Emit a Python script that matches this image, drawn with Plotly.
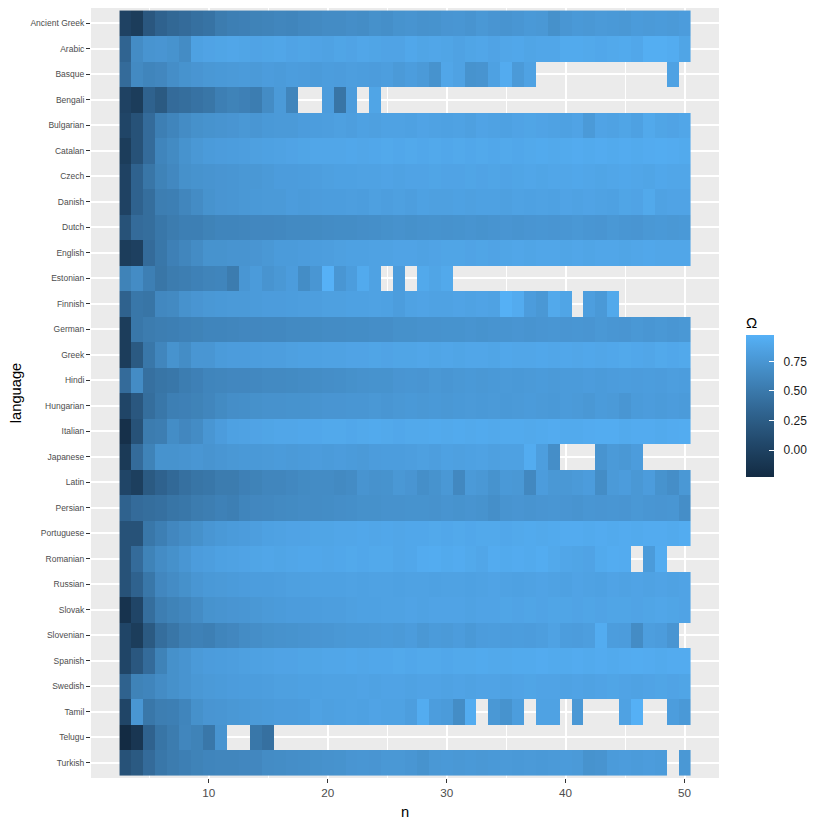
import plotly.graph_objects as go

n_values = list(range(3, 51))

languages = ['Ancient Greek', 'Arabic', 'Basque', 'Bengali', 'Bulgarian', 'Catalan',
             'Czech', 'Danish', 'Dutch', 'English', 'Estonian', 'Finnish', 'German',
             'Greek', 'Hindi', 'Hungarian', 'Italian', 'Japanese', 'Latin', 'Persian',
             'Portuguese', 'Romanian', 'Russian', 'Slovak', 'Slovenian', 'Spanish',
             'Swedish', 'Tamil', 'Telugu', 'Turkish']

N = None
# one row per language, columns n = 3..50 (None = no data)
omega = [
    # Ancient Greek
    [0.00, -0.05, 0.20, 0.30, 0.35, 0.38, 0.42, 0.45,
     0.52, 0.55, 0.56, 0.58, 0.59, 0.61, 0.60, 0.63, 0.64, 0.66,
     0.66, 0.68, 0.67, 0.70, 0.69, 0.72, 0.73, 0.71, 0.72, 0.74,
     0.75, 0.73, 0.76, 0.74, 0.73, 0.75, 0.77, 0.76, 0.70, 0.75,
     0.77, 0.76, 0.78, 0.77, 0.76, 0.79, 0.78, 0.79, 0.78, 0.80],
    # Arabic
    [0.32, 0.66, 0.73, 0.74, 0.72, 0.66, 0.84, 0.86,
     0.87, 0.88, 0.87, 0.86, 0.87, 0.88, 0.86, 0.87, 0.86, 0.85,
     0.87, 0.86, 0.88, 0.87, 0.86, 0.86, 0.89, 0.87, 0.88, 0.87,
     0.85, 0.87, 0.88, 0.86, 0.88, 0.89, 0.87, 0.88, 0.88, 0.91,
     0.91, 0.90, 0.89, 0.90, 0.91, 0.89, 0.94, 0.94, 0.93, 0.87],
    # Basque
    [0.38, 0.64, 0.60, 0.62, 0.68, 0.72, 0.74, 0.76,
     0.77, 0.78, 0.79, 0.78, 0.80, 0.79, 0.81, 0.80, 0.79, 0.81,
     0.80, 0.82, 0.81, 0.80, 0.82, 0.78, 0.81, 0.78, 0.72, 0.88,
     0.85, 0.72, 0.73, 0.84, 0.92, 0.78, 0.85, N, N, N,
     N, N, N, N, N, N, N, N, 0.85, N],
    # Bengali
    [0.00, -0.05, 0.30, 0.22, 0.38, 0.40, 0.44, 0.47,
     0.55, 0.58, 0.56, 0.53, 0.66, 0.78, 0.60, N, N, 0.80,
     0.46, 0.80, N, 0.87, N, N, N, N, N, N,
     N, N, N, N, N, N, N, N, N, N,
     N, N, N, N, N, N, N, N, N, N],
    # Bulgarian
    [0.03, 0.15, 0.38, 0.55, 0.60, 0.66, 0.70, 0.72,
     0.73, 0.74, 0.76, 0.75, 0.77, 0.78, 0.78, 0.80, 0.81, 0.82,
     0.83, 0.82, 0.84, 0.83, 0.85, 0.85, 0.84, 0.86, 0.85, 0.84,
     0.85, 0.83, 0.86, 0.85, 0.84, 0.86, 0.87, 0.86, 0.85, 0.84,
     0.86, 0.78, 0.86, 0.85, 0.87, 0.84, 0.90, 0.87, 0.86, 0.88],
    # Catalan
    [-0.05, 0.15, 0.38, 0.60, 0.65, 0.72, 0.76, 0.79,
     0.80, 0.81, 0.82, 0.83, 0.84, 0.85, 0.86, 0.87, 0.88, 0.88,
     0.88, 0.89, 0.88, 0.89, 0.90, 0.89, 0.90, 0.89, 0.90, 0.89,
     0.90, 0.89, 0.90, 0.89, 0.90, 0.89, 0.90, 0.91, 0.90, 0.91,
     0.92, 0.91, 0.92, 0.91, 0.92, 0.91, 0.92, 0.93, 0.92, 0.91],
    # Czech
    [0.00, 0.30, 0.47, 0.58, 0.63, 0.70, 0.72, 0.73,
     0.74, 0.75, 0.76, 0.76, 0.78, 0.80, 0.80, 0.81, 0.82, 0.83,
     0.84, 0.84, 0.85, 0.85, 0.86, 0.85, 0.86, 0.86, 0.87, 0.86,
     0.86, 0.87, 0.86, 0.87, 0.86, 0.87, 0.88, 0.87, 0.88, 0.88,
     0.89, 0.88, 0.87, 0.88, 0.89, 0.88, 0.87, 0.89, 0.88, 0.88],
    # Danish
    [0.00, 0.30, 0.40, 0.54, 0.55, 0.61, 0.66, 0.72,
     0.74, 0.75, 0.76, 0.77, 0.78, 0.78, 0.80, 0.79, 0.80, 0.81,
     0.81, 0.82, 0.81, 0.83, 0.82, 0.83, 0.82, 0.84, 0.83, 0.83,
     0.84, 0.83, 0.84, 0.84, 0.83, 0.85, 0.84, 0.85, 0.84, 0.86,
     0.85, 0.86, 0.85, 0.84, 0.87, 0.86, 0.90, 0.85, 0.86, 0.86],
    # Dutch
    [0.15, 0.38, 0.40, 0.48, 0.52, 0.55, 0.55, 0.58,
     0.60, 0.60, 0.61, 0.62, 0.62, 0.63, 0.64, 0.64, 0.65, 0.66,
     0.67, 0.67, 0.68, 0.69, 0.70, 0.71, 0.70, 0.71, 0.72, 0.71,
     0.72, 0.73, 0.72, 0.73, 0.74, 0.73, 0.74, 0.75, 0.74, 0.75,
     0.76, 0.75, 0.74, 0.76, 0.75, 0.74, 0.76, 0.77, 0.76, 0.77],
    # English
    [-0.05, -0.02, 0.38, 0.48, 0.56, 0.61, 0.66, 0.72,
     0.72, 0.73, 0.73, 0.74, 0.76, 0.79, 0.79, 0.80, 0.81, 0.82,
     0.83, 0.84, 0.84, 0.85, 0.85, 0.86, 0.86, 0.85, 0.86, 0.87,
     0.87, 0.86, 0.87, 0.86, 0.87, 0.88, 0.87, 0.88, 0.88, 0.87,
     0.88, 0.87, 0.88, 0.88, 0.87, 0.88, 0.89, 0.88, 0.88, 0.88],
    # Estonian
    [0.58, 0.66, 0.55, 0.47, 0.52, 0.54, 0.57, 0.59,
     0.60, 0.52, 0.75, 0.79, 0.73, 0.76, 0.80, 0.67, 0.75, 0.97,
     0.75, 0.81, 0.91, 0.85, N, 0.80, N, 0.90, 0.87, 0.90,
     N, N, N, N, N, N, N, N, N, N,
     N, N, N, N, N, N, N, N, N, N],
    # Finnish
    [0.30, 0.48, 0.46, 0.63, 0.64, 0.71, 0.74, 0.76,
     0.77, 0.78, 0.78, 0.79, 0.80, 0.80, 0.81, 0.82, 0.82, 0.83,
     0.83, 0.84, 0.84, 0.85, 0.84, 0.81, 0.85, 0.86, 0.85, 0.85,
     0.86, 0.85, 0.86, 0.85, 0.96, 0.92, 0.80, 0.76, 0.90, 0.87,
     N, 0.82, 0.77, 0.90, N, N, N, N, N, N],
    # German
    [-0.05, 0.48, 0.52, 0.54, 0.55, 0.57, 0.58, 0.60,
     0.60, 0.61, 0.62, 0.62, 0.63, 0.63, 0.64, 0.64, 0.65, 0.66,
     0.66, 0.67, 0.67, 0.68, 0.68, 0.70, 0.70, 0.71, 0.71, 0.72,
     0.72, 0.73, 0.72, 0.73, 0.73, 0.74, 0.73, 0.74, 0.75, 0.74,
     0.75, 0.74, 0.76, 0.75, 0.74, 0.76, 0.75, 0.76, 0.75, 0.76],
    # Greek
    [-0.05, 0.22, 0.48, 0.61, 0.72, 0.67, 0.75, 0.75,
     0.79, 0.80, 0.80, 0.81, 0.82, 0.82, 0.83, 0.84, 0.84, 0.85,
     0.85, 0.86, 0.86, 0.87, 0.86, 0.87, 0.87, 0.88, 0.87, 0.88,
     0.87, 0.88, 0.88, 0.87, 0.89, 0.88, 0.88, 0.89, 0.88, 0.89,
     0.88, 0.89, 0.88, 0.89, 0.90, 0.89, 0.88, 0.90, 0.89, 0.90],
    # Hindi
    [0.38, 0.66, 0.42, 0.46, 0.48, 0.53, 0.56, 0.60,
     0.61, 0.62, 0.62, 0.63, 0.64, 0.64, 0.65, 0.66, 0.67, 0.68,
     0.69, 0.70, 0.71, 0.72, 0.72, 0.74, 0.75, 0.74, 0.76, 0.75,
     0.76, 0.77, 0.76, 0.77, 0.78, 0.77, 0.78, 0.79, 0.78, 0.79,
     0.79, 0.80, 0.79, 0.80, 0.81, 0.80, 0.81, 0.80, 0.82, 0.81],
    # Hungarian
    [0.03, 0.20, 0.40, 0.48, 0.55, 0.56, 0.58, 0.61,
     0.65, 0.68, 0.69, 0.70, 0.71, 0.71, 0.72, 0.72, 0.73, 0.74,
     0.74, 0.75, 0.75, 0.76, 0.75, 0.76, 0.77, 0.76, 0.77, 0.76,
     0.77, 0.78, 0.77, 0.78, 0.77, 0.78, 0.79, 0.78, 0.77, 0.79,
     0.78, 0.76, 0.79, 0.78, 0.75, 0.79, 0.80, 0.79, 0.80, 0.79],
    # Italian
    [-0.18, 0.15, 0.52, 0.54, 0.67, 0.62, 0.66, 0.75,
     0.80, 0.84, 0.85, 0.86, 0.87, 0.88, 0.88, 0.89, 0.89, 0.90,
     0.90, 0.89, 0.90, 0.91, 0.90, 0.89, 0.90, 0.90, 0.91, 0.90,
     0.91, 0.90, 0.91, 0.90, 0.91, 0.91, 0.90, 0.91, 0.92, 0.91,
     0.91, 0.92, 0.93, 0.93, 0.91, 0.92, 0.92, 0.91, 0.92, 0.93],
    # Japanese
    [-0.08, 0.38, 0.58, 0.72, 0.72, 0.73, 0.75, 0.73,
     0.75, 0.76, 0.77, 0.77, 0.78, 0.79, 0.78, 0.79, 0.80, 0.79,
     0.80, 0.79, 0.78, 0.80, 0.81, 0.81, 0.82, 0.83, 0.82, 0.84,
     0.83, 0.84, 0.85, 0.83, 0.84, 0.84, 0.93, 0.82, 0.68, N,
     N, N, 0.73, 0.78, 0.76, 0.80, N, N, N, N],
    # Latin
    [0.03, -0.03, 0.22, 0.30, 0.36, 0.42, 0.46, 0.48,
     0.52, 0.52, 0.56, 0.58, 0.61, 0.61, 0.63, 0.65, 0.66, 0.66,
     0.64, 0.66, 0.73, 0.71, 0.72, 0.76, 0.74, 0.69, 0.72, 0.76,
     0.63, 0.78, 0.76, 0.72, 0.77, 0.76, 0.63, 0.80, 0.76, 0.76,
     0.78, 0.80, 0.67, 0.78, 0.80, 0.76, 0.80, 0.72, 0.68, 0.76],
    # Persian
    [0.30, 0.38, 0.40, 0.42, 0.46, 0.48, 0.52, 0.54,
     0.57, 0.55, 0.60, 0.62, 0.63, 0.64, 0.65, 0.66, 0.66, 0.67,
     0.68, 0.69, 0.70, 0.70, 0.71, 0.71, 0.72, 0.72, 0.71, 0.73,
     0.72, 0.73, 0.72, 0.69, 0.73, 0.74, 0.73, 0.74, 0.75, 0.74,
     0.73, 0.75, 0.74, 0.75, 0.74, 0.76, 0.75, 0.74, 0.75, 0.68],
    # Portuguese
    [0.15, 0.15, 0.48, 0.55, 0.62, 0.66, 0.70, 0.75,
     0.77, 0.79, 0.80, 0.82, 0.84, 0.85, 0.86, 0.86, 0.87, 0.87,
     0.88, 0.88, 0.89, 0.88, 0.89, 0.88, 0.89, 0.89, 0.90, 0.89,
     0.90, 0.89, 0.90, 0.90, 0.89, 0.90, 0.91, 0.90, 0.91, 0.92,
     0.92, 0.91, 0.92, 0.91, 0.92, 0.91, 0.92, 0.92, 0.91, 0.93],
    # Romanian
    [0.15, 0.38, 0.58, 0.66, 0.70, 0.75, 0.80, 0.82,
     0.84, 0.85, 0.86, 0.87, 0.88, 0.87, 0.88, 0.89, 0.89, 0.88,
     0.89, 0.90, 0.89, 0.90, 0.90, 0.88, 0.89, 0.92, 0.93, 0.91,
     0.92, 0.90, 0.88, 0.92, 0.91, 0.92, 0.91, 0.93, 0.90, 0.88,
     0.87, 0.86, 0.91, 0.93, 0.92, N, 0.79, 0.93, N, N],
    # Russian
    [0.15, 0.30, 0.48, 0.62, 0.66, 0.70, 0.75, 0.77,
     0.78, 0.79, 0.80, 0.81, 0.81, 0.82, 0.83, 0.83, 0.84, 0.84,
     0.84, 0.85, 0.84, 0.85, 0.85, 0.84, 0.85, 0.85, 0.84, 0.85,
     0.85, 0.84, 0.85, 0.86, 0.85, 0.84, 0.85, 0.86, 0.85, 0.84,
     0.86, 0.85, 0.84, 0.86, 0.85, 0.86, 0.85, 0.86, 0.85, 0.86],
    # Slovak
    [-0.15, 0.03, 0.40, 0.54, 0.58, 0.61, 0.66, 0.72,
     0.73, 0.74, 0.75, 0.76, 0.78, 0.79, 0.80, 0.80, 0.81, 0.82,
     0.82, 0.83, 0.84, 0.84, 0.85, 0.85, 0.86, 0.85, 0.86, 0.86,
     0.86, 0.85, 0.86, 0.86, 0.87, 0.86, 0.87, 0.86, 0.87, 0.87,
     0.86, 0.87, 0.86, 0.87, 0.87, 0.86, 0.87, 0.88, 0.87, 0.86],
    # Slovenian
    [0.03, -0.05, 0.22, 0.40, 0.47, 0.54, 0.57, 0.55,
     0.60, 0.62, 0.66, 0.68, 0.70, 0.71, 0.72, 0.73, 0.74, 0.75,
     0.76, 0.77, 0.77, 0.78, 0.79, 0.78, 0.80, 0.76, 0.79, 0.78,
     0.80, 0.77, 0.80, 0.81, 0.80, 0.81, 0.80, 0.82, 0.85, 0.81,
     0.80, 0.82, 0.93, 0.81, 0.80, 0.66, 0.82, 0.80, 0.74, N],
    # Spanish
    [0.03, 0.20, 0.38, 0.58, 0.70, 0.73, 0.78, 0.80,
     0.81, 0.82, 0.83, 0.84, 0.85, 0.86, 0.86, 0.87, 0.87, 0.88,
     0.88, 0.89, 0.88, 0.89, 0.89, 0.90, 0.89, 0.90, 0.90, 0.89,
     0.90, 0.90, 0.91, 0.90, 0.90, 0.91, 0.91, 0.92, 0.91, 0.91,
     0.92, 0.91, 0.92, 0.91, 0.92, 0.93, 0.92, 0.91, 0.92, 0.92],
    # Swedish
    [0.30, 0.58, 0.60, 0.66, 0.70, 0.73, 0.76, 0.78,
     0.79, 0.80, 0.81, 0.81, 0.82, 0.83, 0.83, 0.84, 0.84, 0.85,
     0.85, 0.85, 0.86, 0.85, 0.86, 0.86, 0.85, 0.86, 0.86, 0.85,
     0.86, 0.85, 0.86, 0.86, 0.85, 0.86, 0.87, 0.86, 0.86, 0.85,
     0.86, 0.85, 0.86, 0.87, 0.86, 0.85, 0.86, 0.87, 0.86, 0.87],
    # Tamil
    [0.03, 0.75, 0.48, 0.54, 0.55, 0.60, 0.70, 0.74,
     0.75, 0.76, 0.77, 0.78, 0.79, 0.80, 0.80, 0.81, 0.85, 0.83,
     0.84, 0.85, 0.84, 0.86, 0.85, 0.85, 0.82, 0.93, 0.81, 0.79,
     0.67, 0.93, N, 0.76, 0.72, 0.81, N, 0.85, 0.85, N,
     0.76, N, N, N, 0.85, 0.96, N, N, 0.81, 0.77],
    # Telugu
    [-0.23, -0.12, 0.30, 0.46, 0.52, 0.61, 0.58, 0.48,
     0.73, N, N, 0.48, 0.42, N, N, N, N, N,
     N, N, N, N, N, N, N, N, N, N,
     N, N, N, N, N, N, N, N, N, N,
     N, N, N, N, N, N, N, N, N, N],
    # Turkish
    [0.15, 0.22, 0.38, 0.48, 0.52, 0.55, 0.58, 0.60,
     0.61, 0.61, 0.62, 0.62, 0.66, 0.67, 0.68, 0.69, 0.70, 0.71,
     0.72, 0.74, 0.75, 0.74, 0.76, 0.76, 0.75, 0.72, 0.76, 0.77,
     0.76, 0.77, 0.76, 0.77, 0.78, 0.77, 0.78, 0.77, 0.78, 0.79,
     0.78, 0.72, 0.73, 0.79, 0.80, 0.79, 0.80, 0.79, N, 0.76],
]
for row in omega:
    assert len(row) == len(n_values)


# ggplot2 default gradient: #132B43 -> #56B1F7 interpolated in Lab
def hex_to_lab(h):
    rgb = [int(h[i:i + 2], 16) / 255 for i in (1, 3, 5)]
    lin = [c / 12.92 if c <= 0.04045 else ((c + 0.055) / 1.055) ** 2.4 for c in rgb]
    x = (0.4124 * lin[0] + 0.3576 * lin[1] + 0.1805 * lin[2]) / 0.95047
    y = 0.2126 * lin[0] + 0.7152 * lin[1] + 0.0722 * lin[2]
    z = (0.0193 * lin[0] + 0.1192 * lin[1] + 0.9505 * lin[2]) / 1.08883
    f = lambda t: t ** (1 / 3) if t > 0.008856 else 7.787 * t + 16 / 116
    fx, fy, fz = f(x), f(y), f(z)
    return 116 * fy - 16, 500 * (fx - fy), 200 * (fy - fz)


def lab_to_hex(L, a, b):
    fy = (L + 16) / 116
    fx = fy + a / 500
    fz = fy - b / 200
    g = lambda t: t ** 3 if t ** 3 > 0.008856 else (t - 16 / 116) / 7.787
    x, y, z = g(fx) * 0.95047, g(fy), g(fz) * 1.08883
    r = 3.2406 * x - 1.5372 * y - 0.4986 * z
    gg = -0.9689 * x + 1.8758 * y + 0.0415 * z
    bb = 0.0557 * x - 0.2040 * y + 1.0570 * z
    out = []
    for c in (r, gg, bb):
        c = 12.92 * c if c <= 0.0031308 else 1.055 * c ** (1 / 2.4) - 0.055
        out.append(max(0, min(255, round(c * 255))))
    return '#%02x%02x%02x' % tuple(out)


lo, hi = hex_to_lab('#132B43'), hex_to_lab('#56B1F7')
colorscale = []
for i in range(21):
    t = i / 20
    colorscale.append([t, lab_to_hex(*[lo[k] + (hi[k] - lo[k]) * t for k in range(3)])])

pad = '\u00a0\u00a0'
fig = go.Figure()
fig.add_trace(go.Heatmap(
    x=n_values, y=languages, z=omega,
    colorscale=colorscale, hoverongaps=False,
    colorbar=dict(
        title=dict(text='Ω', side='top', font=dict(size=15, color='#000000')),
        x=1.043, xanchor='left', y=0.497, yanchor='middle',
        xpad=0, ypad=0,
        len=164, lenmode='pixels', thickness=28, thicknessmode='pixels',
        outlinewidth=0, ticks='inside', ticklen=5, tickcolor='white', tickwidth=1,
        tickvals=[0, 0.25, 0.5, 0.75],
        ticktext=[pad + '0.00', pad + '0.25', pad + '0.50', pad + '0.75'],
        tickfont=dict(size=12, color='#1a1a1a'),
    ),
))

# the page body adds 8px on the left and top, margins account for that
fig.update_layout(
    width=830, height=830,
    margin=dict(l=83, r=119, t=0, b=60, autoexpand=False),
    paper_bgcolor='white', plot_bgcolor='#EBEBEB',
    font=dict(family='Liberation Sans, Arial, sans-serif'),
    xaxis=dict(
        range=[0.1, 52.9], tickvals=[10, 20, 30, 40, 50], automargin=False,
        showgrid=True, gridcolor='white', gridwidth=2, zeroline=False,
        minor=dict(tickvals=[5, 15, 25, 35, 45], showgrid=True, gridcolor='white', gridwidth=1),
        ticks='outside', ticklen=4, tickcolor='#333333', tickwidth=1,
        tickfont=dict(size=11.7, color='#4D4D4D'),
        title=dict(text='n', font=dict(size=14.7, color='#000000'), standoff=8),
    ),
    yaxis=dict(
        type='category', categoryorder='array', categoryarray=languages,
        range=[29.6, -0.6], automargin=False,
        showgrid=True, gridcolor='white', gridwidth=2, zeroline=False,
        ticks='outside', ticklen=4, tickcolor='#333333', tickwidth=1,
        tickfont=dict(size=8.5, color='#4D4D4D'),
        title=dict(text='language', font=dict(size=14.7, color='#000000'), standoff=6),
    ),
)

fig.write_html("out.html")
